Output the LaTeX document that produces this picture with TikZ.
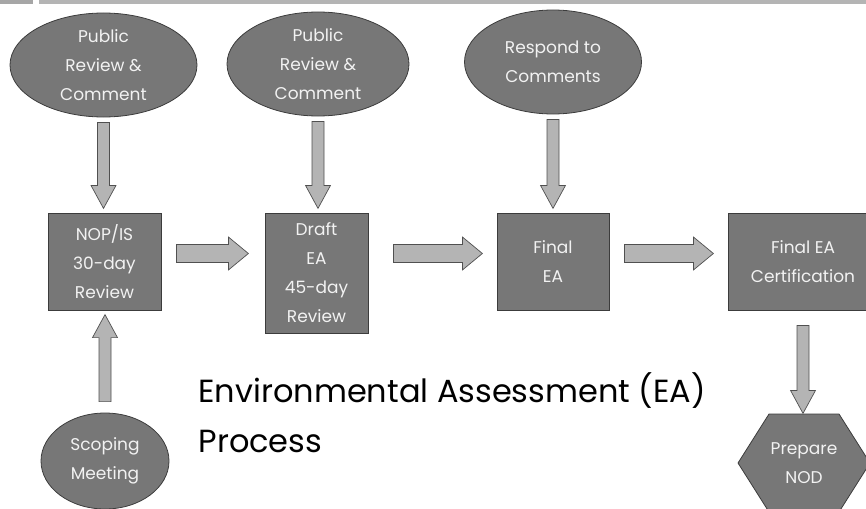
\documentclass[tikz,border=0pt]{standalone}
\usepackage{fontspec}
\setmainfont{Poppins}
\usetikzlibrary{shapes.geometric,calc}
\definecolor{nodegrey}{HTML}{777777}
\definecolor{nodeedge}{HTML}{3C3C3C}
\definecolor{arrowgrey}{HTML}{B4B4B4}
\definecolor{arrowedge}{HTML}{505050}
\definecolor{bardark}{HTML}{A6A6A6}
\definecolor{barlight}{HTML}{B4B4B4}

\begin{document}
\begin{tikzpicture}[x=1pt,y=-1pt,
                    every node/.style={font=\fontsize{17}{29}\selectfont, text=white!95!black, align=center},
                    stage/.style={draw=nodeedge, fill=nodegrey, line width=0.8pt, inner sep=0pt},
                    oval/.style={stage, ellipse},
                    box/.style={stage, rectangle},
                    arrowstyle/.style={draw=arrowedge, fill=arrowgrey, line width=0.7pt},
                    pics/harrow/.style={code={
                        \filldraw[arrowstyle] (0,-9) -- (#1-20,-9) -- (#1-20,-16.5) -- (#1,0)
                            -- (#1-20,16.5) -- (#1-20,9) -- (0,9) -- cycle;}},
                    pics/varrow/.style={code={
                        \filldraw[arrowstyle] (0,-6) -- (#1-23,-6) -- (#1-23,-12.5) -- (#1,0)
                            -- (#1-23,12.5) -- (#1-23,6) -- (0,6) -- cycle;}}]
    \useasboundingbox (0,0) rectangle (866,508);
    \fill[bardark] (0,0) rectangle (33,4);
    \fill[barlight] (39,0) rectangle (866,4);

    \node[oval, minimum width=187, minimum height=104] (pub1) at (103.5,65) {Public\\Review \&\\Comment};
    \node[oval, minimum width=182, minimum height=104] (pub2) at (318,64) {Public\\Review \&\\Comment};
    \node[oval, minimum width=177, minimum height=104] (resp) at (553,62) {Respond to\\Comments};
    \node[oval, minimum width=128, minimum height=96] (scop) at (105,461) {Scoping\\Meeting};

    \node[box, minimum width=113, minimum height=97] (nop) at (104.5,261.5) {NOP/IS\\30-day\\Review};
    \node[box, minimum width=103, minimum height=120] (draft) at (316.5,273) {Draft\\EA\\45-day\\Review};
    \node[box, minimum width=112, minimum height=97] (final) at (553,261.5) {Final\\EA};
    \node[box, minimum width=150, minimum height=97] (cert) at (803,261.5) {Final EA\\Certification};

    \coordinate (hexc) at (804,463);
    \filldraw[draw=nodeedge, fill=nodegrey, line width=0.8pt] (hexc) ++(-66,0) -- ++(31,-49) -- ++(70,0)
        -- ++(31,49) -- ++(-31,49) -- ++(-70,0) -- cycle;
    \node (nod) at (hexc) {Prepare\\NOD};

    \path ($(pub1.south)+(0,5)$) pic[rotate=-90] {varrow=86};
    \path ($(pub2.south)+(0,5)$) pic[rotate=-90] {varrow=87};
    \path ($(resp.south)+(0,5)$) pic[rotate=-90] {varrow=89};
    \path ($(scop.north)+(0,-11)$) pic[rotate=90] {varrow=87};
    \path ($(cert.south)+(0,15)$) pic[rotate=-90] {varrow=88};

    \path ($(nop.east)+(15,-8)$) pic {harrow=72};
    \path ($(draft.east)+(25,-19.5)$) pic {harrow=89};
    \path ($(final.east)+(15,-8)$) pic {harrow=89};

    \node[text=black, align=left, anchor=base west, font=\fontsize{32}{50}\selectfont] (title) at (195,452)
        {Environmental Assessment (EA)\\Process};
\end{tikzpicture}
\end{document}
